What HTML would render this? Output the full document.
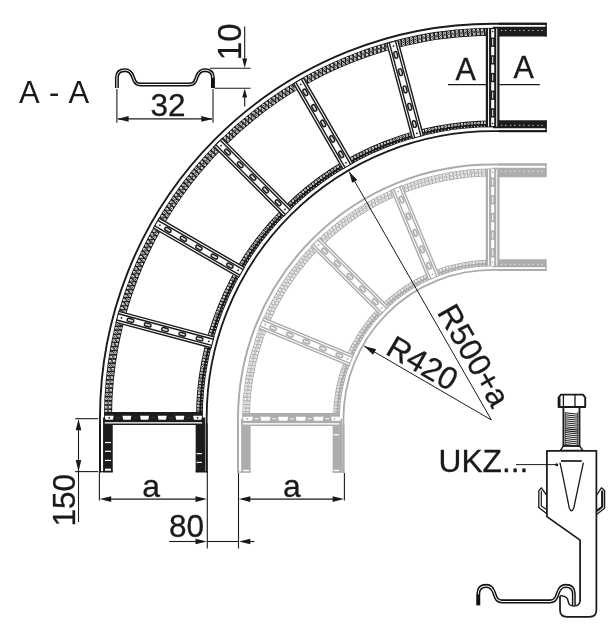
<!DOCTYPE html>
<html><head><meta charset="utf-8"><title>Cable ladder bend</title>
<style>html,body{margin:0;padding:0;background:#fff;}svg{display:block;filter:grayscale(1);}text{font-family:"Liberation Sans",sans-serif;}</style>
</head><body>
<svg width="616" height="637" viewBox="0 0 616 637">
<rect width="616" height="637" fill="#fff"/>
<g id="grey">
<path d="M238 472.6 L238 418.8 A254.3 254.3 0 0 1 492.3 164.5 L546.5 164.5" fill="none" stroke="#ababab" stroke-width="1.9"/>
<path d="M343.45 472.6 L343.45 418.8 A148.85 148.85 0 0 1 492.3 269.95 L546.5 269.95" fill="none" stroke="#ababab" stroke-width="1.8"/>
<path d="M246 418.8 A246.3 246.3 0 0 1 492.3 172.5" fill="none" stroke="#adadad" stroke-width="7.8"/>
<path d="M336.4 418.8 A155.9 155.9 0 0 1 492.3 262.9" fill="none" stroke="#adadad" stroke-width="6.8"/>
<line x1="245.9" y1="418.8" x2="245.9" y2="472.6" stroke="#adadad" stroke-width="9.5"/>
<line x1="492.3" y1="172.4" x2="546.5" y2="172.4" stroke="#adadad" stroke-width="9.5"/>
<line x1="337.4" y1="418.8" x2="337.4" y2="472.6" stroke="#adadad" stroke-width="9.5"/>
<line x1="492.3" y1="263.3" x2="546.5" y2="263.3" stroke="#adadad" stroke-width="8.1"/>
<line x1="238" y1="424.8" x2="238" y2="472.6" stroke="#ababab" stroke-width="1.9"/>
<line x1="498.3" y1="164.5" x2="546.5" y2="164.5" stroke="#ababab" stroke-width="1.9"/>
<line x1="343.45" y1="424.8" x2="343.45" y2="472.6" stroke="#ababab" stroke-width="1.9"/>
<line x1="498.3" y1="269.95" x2="546.5" y2="269.95" stroke="#ababab" stroke-width="1.9"/>
<path d="M244.05 418.8 A248.25 248.25 0 0 1 492.3 170.55" fill="none" stroke="#fff" stroke-width="2.55" stroke-linecap="round" stroke-dasharray="0 3.61" stroke-dashoffset="-1.81"/><path d="M244.05 418.8 A248.25 248.25 0 0 1 492.3 170.55" fill="none" stroke="#adadad" stroke-width="1.1" stroke-linecap="round" stroke-dasharray="0 3.61" stroke-dashoffset="-1.81"/>
<path d="M247.95 418.8 A244.35 244.35 0 0 1 492.3 174.45" fill="none" stroke="#fff" stroke-width="2.55" stroke-linecap="round" stroke-dasharray="0 3.59" stroke-dashoffset="-1.79"/><path d="M247.95 418.8 A244.35 244.35 0 0 1 492.3 174.45" fill="none" stroke="#adadad" stroke-width="1.1" stroke-linecap="round" stroke-dasharray="0 3.59" stroke-dashoffset="-1.79"/>
<path d="M246 418.8 A246.3 246.3 0 0 1 492.3 172.5" fill="none" stroke="#fff" stroke-width="0.9" stroke-linecap="round" stroke-dasharray="0 1.8" stroke-dashoffset="-0.9"/>
<path d="M335.1 418.8 A157.2 157.2 0 0 1 492.3 261.6" fill="none" stroke="#fff" stroke-width="2.4" stroke-linecap="round" stroke-dasharray="0 3.38" stroke-dashoffset="-1.69"/><path d="M335.1 418.8 A157.2 157.2 0 0 1 492.3 261.6" fill="none" stroke="#adadad" stroke-width="1.1" stroke-linecap="round" stroke-dasharray="0 3.38" stroke-dashoffset="-1.69"/>
<path d="M338.5 418.8 A153.8 153.8 0 0 1 492.3 265" fill="none" stroke="#fff" stroke-width="1.1" stroke-linecap="round" stroke-dasharray="0 3.4" stroke-dashoffset="-1.7"/>
<g transform="translate(492.3 418.8) rotate(-22.5)"><rect x="-6.2" y="-250" width="12.4" height="97.3" fill="#fff"/><line x1="-5.65" y1="-250" x2="-5.65" y2="-152.7" stroke="#ababab" stroke-width="1.4"/><line x1="-3.2" y1="-250" x2="-3.2" y2="-152.7" stroke="#ababab" stroke-width="1.4"/><line x1="3.2" y1="-250" x2="3.2" y2="-152.7" stroke="#ababab" stroke-width="1.4"/><line x1="5.65" y1="-250" x2="5.65" y2="-152.7" stroke="#ababab" stroke-width="1.4"/><line x1="-6.2" y1="-250" x2="6.2" y2="-250" stroke="#ababab" stroke-width="1"/><line x1="-6.2" y1="-152.7" x2="6.2" y2="-152.7" stroke="#ababab" stroke-width="1"/><rect x="-1.6" y="-168.95" width="3.2" height="6.8" rx="1.5" fill="#eee" stroke="#ababab" stroke-width="1.45"/><rect x="-1.6" y="-186.85" width="3.2" height="6.8" rx="1.5" fill="#eee" stroke="#ababab" stroke-width="1.45"/><rect x="-1.6" y="-204.75" width="3.2" height="6.8" rx="1.5" fill="#eee" stroke="#ababab" stroke-width="1.45"/><rect x="-1.6" y="-222.65" width="3.2" height="6.8" rx="1.5" fill="#eee" stroke="#ababab" stroke-width="1.45"/><rect x="-1.6" y="-240.55" width="3.2" height="6.8" rx="1.5" fill="#eee" stroke="#ababab" stroke-width="1.45"/><circle cx="0" cy="-245.8" r="0.9" fill="#ababab"/><circle cx="0" cy="-156.5" r="0.9" fill="#ababab"/></g>
<g transform="translate(492.3 418.8) rotate(-45)"><rect x="-6.2" y="-250" width="12.4" height="97.3" fill="#fff"/><line x1="-5.65" y1="-250" x2="-5.65" y2="-152.7" stroke="#ababab" stroke-width="1.4"/><line x1="-3.2" y1="-250" x2="-3.2" y2="-152.7" stroke="#ababab" stroke-width="1.4"/><line x1="3.2" y1="-250" x2="3.2" y2="-152.7" stroke="#ababab" stroke-width="1.4"/><line x1="5.65" y1="-250" x2="5.65" y2="-152.7" stroke="#ababab" stroke-width="1.4"/><line x1="-6.2" y1="-250" x2="6.2" y2="-250" stroke="#ababab" stroke-width="1"/><line x1="-6.2" y1="-152.7" x2="6.2" y2="-152.7" stroke="#ababab" stroke-width="1"/><rect x="-1.6" y="-168.95" width="3.2" height="6.8" rx="1.5" fill="#eee" stroke="#ababab" stroke-width="1.45"/><rect x="-1.6" y="-186.85" width="3.2" height="6.8" rx="1.5" fill="#eee" stroke="#ababab" stroke-width="1.45"/><rect x="-1.6" y="-204.75" width="3.2" height="6.8" rx="1.5" fill="#eee" stroke="#ababab" stroke-width="1.45"/><rect x="-1.6" y="-222.65" width="3.2" height="6.8" rx="1.5" fill="#eee" stroke="#ababab" stroke-width="1.45"/><rect x="-1.6" y="-240.55" width="3.2" height="6.8" rx="1.5" fill="#eee" stroke="#ababab" stroke-width="1.45"/><circle cx="0" cy="-245.8" r="0.9" fill="#ababab"/><circle cx="0" cy="-156.5" r="0.9" fill="#ababab"/></g>
<g transform="translate(492.3 418.8) rotate(-67.5)"><rect x="-6.2" y="-250" width="12.4" height="97.3" fill="#fff"/><line x1="-5.65" y1="-250" x2="-5.65" y2="-152.7" stroke="#ababab" stroke-width="1.4"/><line x1="-3.2" y1="-250" x2="-3.2" y2="-152.7" stroke="#ababab" stroke-width="1.4"/><line x1="3.2" y1="-250" x2="3.2" y2="-152.7" stroke="#ababab" stroke-width="1.4"/><line x1="5.65" y1="-250" x2="5.65" y2="-152.7" stroke="#ababab" stroke-width="1.4"/><line x1="-6.2" y1="-250" x2="6.2" y2="-250" stroke="#ababab" stroke-width="1"/><line x1="-6.2" y1="-152.7" x2="6.2" y2="-152.7" stroke="#ababab" stroke-width="1"/><rect x="-1.6" y="-168.95" width="3.2" height="6.8" rx="1.5" fill="#eee" stroke="#ababab" stroke-width="1.45"/><rect x="-1.6" y="-186.85" width="3.2" height="6.8" rx="1.5" fill="#eee" stroke="#ababab" stroke-width="1.45"/><rect x="-1.6" y="-204.75" width="3.2" height="6.8" rx="1.5" fill="#eee" stroke="#ababab" stroke-width="1.45"/><rect x="-1.6" y="-222.65" width="3.2" height="6.8" rx="1.5" fill="#eee" stroke="#ababab" stroke-width="1.45"/><rect x="-1.6" y="-240.55" width="3.2" height="6.8" rx="1.5" fill="#eee" stroke="#ababab" stroke-width="1.45"/><circle cx="0" cy="-245.8" r="0.9" fill="#ababab"/><circle cx="0" cy="-156.5" r="0.9" fill="#ababab"/></g>
<rect x="485.8" y="168.8" width="13.7" height="97.3" fill="#adadad"/>
<rect x="488.05" y="169.3" width="1.0" height="96.3" fill="#fff"/>
<rect x="496.25" y="169.3" width="1.0" height="96.3" fill="#fff"/>
<rect x="491.2" y="169.05" width="3" height="8.4" fill="#fff"/>
<rect x="491.2" y="186.75" width="3" height="8.4" fill="#fff"/>
<rect x="491.2" y="204.4" width="3" height="8.4" fill="#fff"/>
<rect x="491.2" y="222.1" width="3" height="8.4" fill="#fff"/>
<rect x="491.2" y="239.75" width="3" height="8.4" fill="#fff"/>
<rect x="491.2" y="257.45" width="3" height="8.4" fill="#fff"/>
<rect x="492.2" y="178.85" width="1" height="6.4" fill="#fff"/>
<rect x="492.2" y="196.55" width="1" height="6.4" fill="#fff"/>
<rect x="492.2" y="214.25" width="1" height="6.4" fill="#fff"/>
<rect x="492.2" y="231.95" width="1" height="6.4" fill="#fff"/>
<rect x="492.2" y="249.65" width="1" height="6.4" fill="#fff"/>
<circle cx="492.7" cy="172.4" r="0.8" fill="#adadad"/>
<circle cx="492.7" cy="262.5" r="0.8" fill="#adadad"/>
<rect x="242.3" y="413" width="97.3" height="13" fill="#adadad"/>
<rect x="242.8" y="423.2" width="96.3" height="1.3" fill="#fff"/>
<path d="M242.65 416.8 h10.2 l-0.8 3.9 h-8.6 z" fill="#fff"/>
<path d="M260.35 416.8 h10.2 l-0.8 3.9 h-8.6 z" fill="#fff"/>
<path d="M278 416.8 h10.2 l-0.8 3.9 h-8.6 z" fill="#fff"/>
<path d="M295.7 416.8 h10.2 l-0.8 3.9 h-8.6 z" fill="#fff"/>
<path d="M313.35 416.8 h10.2 l-0.8 3.9 h-8.6 z" fill="#fff"/>
<path d="M331.05 416.8 h10.2 l-0.8 3.9 h-8.6 z" fill="#fff"/>
<rect x="254.55" y="418.2" width="4" height="1.1" fill="#fff" opacity="0.9"/>
<rect x="272.25" y="418.2" width="4" height="1.1" fill="#fff" opacity="0.9"/>
<rect x="289.95" y="418.2" width="4" height="1.1" fill="#fff" opacity="0.9"/>
<rect x="307.65" y="418.2" width="4" height="1.1" fill="#fff" opacity="0.9"/>
<rect x="325.35" y="418.2" width="4" height="1.1" fill="#fff" opacity="0.9"/>
<circle cx="247.3" cy="418.8" r="0.9" fill="#adadad"/>
<circle cx="334.6" cy="418.8" r="0.9" fill="#adadad"/>
<rect x="243" y="469.8" width="6" height="1.6" fill="#fff"/>
<rect x="333.6" y="434.2" width="5.4" height="1.2" fill="#fff"/>
<rect x="333.6" y="469.8" width="5.4" height="1.6" fill="#fff"/>
<line x1="237.15" y1="472" x2="250.7" y2="472" stroke="#ababab" stroke-width="1.2"/>
<line x1="332.6" y1="472" x2="344.3" y2="472" stroke="#ababab" stroke-width="1.2"/>
<line x1="545.8" y1="163.65" x2="545.8" y2="176.4" stroke="#ababab" stroke-width="1.4"/>
<line x1="545.8" y1="259.5" x2="545.8" y2="270.8" stroke="#ababab" stroke-width="1.4"/>
<rect x="501.2" y="170.7" width="1" height="1" fill="#fff"/>
<rect x="505.3" y="170.7" width="1" height="1" fill="#fff"/>
<rect x="510.25" y="170.7" width="1" height="1" fill="#fff"/>
<rect x="514.35" y="170.7" width="1" height="1" fill="#fff"/>
<rect x="519.3" y="170.7" width="1" height="1" fill="#fff"/>
<rect x="523.4" y="170.7" width="1" height="1" fill="#fff"/>
<rect x="528.35" y="170.7" width="1" height="1" fill="#fff"/>
<rect x="532.45" y="170.7" width="1" height="1" fill="#fff"/>
<rect x="537.4" y="170.7" width="1" height="1" fill="#fff"/>
<rect x="541.5" y="170.7" width="1" height="1" fill="#fff"/>
<rect x="501.2" y="263.8" width="1" height="1" fill="#fff"/>
<rect x="505.3" y="263.8" width="1" height="1" fill="#fff"/>
<rect x="510.25" y="263.8" width="1" height="1" fill="#fff"/>
<rect x="514.35" y="263.8" width="1" height="1" fill="#fff"/>
<rect x="519.3" y="263.8" width="1" height="1" fill="#fff"/>
<rect x="523.4" y="263.8" width="1" height="1" fill="#fff"/>
<rect x="528.35" y="263.8" width="1" height="1" fill="#fff"/>
<rect x="532.45" y="263.8" width="1" height="1" fill="#fff"/>
<rect x="537.4" y="263.8" width="1" height="1" fill="#fff"/>
<rect x="541.5" y="263.8" width="1" height="1" fill="#fff"/>
</g>
<g id="black">
<path d="M100 472.3 L100 417.5 A393 393.7 0 0 1 493 23.8 L546.7 23.8" fill="none" stroke="#1a1a1a" stroke-width="1.9"/>
<path d="M206.7 472.3 L206.7 417.5 A286.3 286.3 0 0 1 493 131.2 L546.7 131.2" fill="none" stroke="#1a1a1a" stroke-width="1.8"/>
<path d="M108 417.5 A385 385.7 0 0 1 493 31.8" fill="none" stroke="#1c1c1c" stroke-width="8"/>
<path d="M199.4 417.5 A293.6 293.6 0 0 1 493 123.9" fill="none" stroke="#1c1c1c" stroke-width="6.8"/>
<line x1="107.9" y1="417.5" x2="107.9" y2="472.3" stroke="#1c1c1c" stroke-width="9.7"/>
<line x1="493" y1="31.7" x2="546.7" y2="31.7" stroke="#1c1c1c" stroke-width="9.7"/>
<line x1="200.4" y1="417.5" x2="200.4" y2="472.3" stroke="#1c1c1c" stroke-width="9.5"/>
<line x1="493" y1="124.3" x2="546.7" y2="124.3" stroke="#1c1c1c" stroke-width="8.1"/>
<line x1="100" y1="423.5" x2="100" y2="472.3" stroke="#1a1a1a" stroke-width="1.9"/>
<line x1="499" y1="23.8" x2="546.7" y2="23.8" stroke="#1a1a1a" stroke-width="1.9"/>
<line x1="206.7" y1="423.5" x2="206.7" y2="472.3" stroke="#1a1a1a" stroke-width="1.9"/>
<line x1="499" y1="131.2" x2="546.7" y2="131.2" stroke="#1a1a1a" stroke-width="1.9"/>
<path d="M106.05 417.5 A386.95 387.65 0 0 1 493 29.85" fill="none" stroke="#fff" stroke-width="2.55" stroke-linecap="round" stroke-dasharray="0 4.19" stroke-dashoffset="-2.1"/><path d="M106.05 417.5 A386.95 387.65 0 0 1 493 29.85" fill="none" stroke="#1c1c1c" stroke-width="1.1" stroke-linecap="round" stroke-dasharray="0 4.19" stroke-dashoffset="-2.1"/>
<path d="M109.95 417.5 A383.05 383.75 0 0 1 493 33.75" fill="none" stroke="#fff" stroke-width="2.55" stroke-linecap="round" stroke-dasharray="0 4.21" stroke-dashoffset="-2.1"/><path d="M109.95 417.5 A383.05 383.75 0 0 1 493 33.75" fill="none" stroke="#1c1c1c" stroke-width="1.1" stroke-linecap="round" stroke-dasharray="0 4.21" stroke-dashoffset="-2.1"/>
<path d="M108 417.5 A385 385.7 0 0 1 493 31.8" fill="none" stroke="#fff" stroke-width="0.9" stroke-linecap="round" stroke-dasharray="0 2.1" stroke-dashoffset="-1.05"/>
<path d="M198.1 417.5 A294.9 294.9 0 0 1 493 122.6" fill="none" stroke="#fff" stroke-width="2.4" stroke-linecap="round" stroke-dasharray="0 3.31" stroke-dashoffset="-1.65"/><path d="M198.1 417.5 A294.9 294.9 0 0 1 493 122.6" fill="none" stroke="#1c1c1c" stroke-width="1.1" stroke-linecap="round" stroke-dasharray="0 3.31" stroke-dashoffset="-1.65"/>
<path d="M201.5 417.5 A291.5 291.5 0 0 1 493 126" fill="none" stroke="#fff" stroke-width="1.1" stroke-linecap="round" stroke-dasharray="0 3.29" stroke-dashoffset="-1.65"/>
<g transform="translate(493 417.5) rotate(-15)"><rect x="-6.2" y="-388.8" width="12.4" height="98.4" fill="#fff"/><line x1="-5.65" y1="-388.8" x2="-5.65" y2="-290.4" stroke="#1a1a1a" stroke-width="1.4"/><line x1="-3.2" y1="-388.8" x2="-3.2" y2="-290.4" stroke="#1a1a1a" stroke-width="1.4"/><line x1="3.2" y1="-388.8" x2="3.2" y2="-290.4" stroke="#1a1a1a" stroke-width="1.4"/><line x1="5.65" y1="-388.8" x2="5.65" y2="-290.4" stroke="#1a1a1a" stroke-width="1.4"/><line x1="-6.2" y1="-388.8" x2="6.2" y2="-388.8" stroke="#1a1a1a" stroke-width="1"/><line x1="-6.2" y1="-290.4" x2="6.2" y2="-290.4" stroke="#1a1a1a" stroke-width="1"/><rect x="-1.6" y="-307.2" width="3.2" height="6.8" rx="1.5" fill="#ddd" stroke="#1a1a1a" stroke-width="1.45"/><rect x="-1.6" y="-325.1" width="3.2" height="6.8" rx="1.5" fill="#ddd" stroke="#1a1a1a" stroke-width="1.45"/><rect x="-1.6" y="-343" width="3.2" height="6.8" rx="1.5" fill="#ddd" stroke="#1a1a1a" stroke-width="1.45"/><rect x="-1.6" y="-360.9" width="3.2" height="6.8" rx="1.5" fill="#ddd" stroke="#1a1a1a" stroke-width="1.45"/><rect x="-1.6" y="-378.8" width="3.2" height="6.8" rx="1.5" fill="#ddd" stroke="#1a1a1a" stroke-width="1.45"/><circle cx="0" cy="-384.6" r="0.9" fill="#1a1a1a"/><circle cx="0" cy="-294.2" r="0.9" fill="#1a1a1a"/></g>
<g transform="translate(493 417.5) rotate(-30)"><rect x="-6.2" y="-388.8" width="12.4" height="98.4" fill="#fff"/><line x1="-5.65" y1="-388.8" x2="-5.65" y2="-290.4" stroke="#1a1a1a" stroke-width="1.4"/><line x1="-3.2" y1="-388.8" x2="-3.2" y2="-290.4" stroke="#1a1a1a" stroke-width="1.4"/><line x1="3.2" y1="-388.8" x2="3.2" y2="-290.4" stroke="#1a1a1a" stroke-width="1.4"/><line x1="5.65" y1="-388.8" x2="5.65" y2="-290.4" stroke="#1a1a1a" stroke-width="1.4"/><line x1="-6.2" y1="-388.8" x2="6.2" y2="-388.8" stroke="#1a1a1a" stroke-width="1"/><line x1="-6.2" y1="-290.4" x2="6.2" y2="-290.4" stroke="#1a1a1a" stroke-width="1"/><rect x="-1.6" y="-307.2" width="3.2" height="6.8" rx="1.5" fill="#ddd" stroke="#1a1a1a" stroke-width="1.45"/><rect x="-1.6" y="-325.1" width="3.2" height="6.8" rx="1.5" fill="#ddd" stroke="#1a1a1a" stroke-width="1.45"/><rect x="-1.6" y="-343" width="3.2" height="6.8" rx="1.5" fill="#ddd" stroke="#1a1a1a" stroke-width="1.45"/><rect x="-1.6" y="-360.9" width="3.2" height="6.8" rx="1.5" fill="#ddd" stroke="#1a1a1a" stroke-width="1.45"/><rect x="-1.6" y="-378.8" width="3.2" height="6.8" rx="1.5" fill="#ddd" stroke="#1a1a1a" stroke-width="1.45"/><circle cx="0" cy="-384.6" r="0.9" fill="#1a1a1a"/><circle cx="0" cy="-294.2" r="0.9" fill="#1a1a1a"/></g>
<g transform="translate(493 417.5) rotate(-45)"><rect x="-6.2" y="-388.8" width="12.4" height="98.4" fill="#fff"/><line x1="-5.65" y1="-388.8" x2="-5.65" y2="-290.4" stroke="#1a1a1a" stroke-width="1.4"/><line x1="-3.2" y1="-388.8" x2="-3.2" y2="-290.4" stroke="#1a1a1a" stroke-width="1.4"/><line x1="3.2" y1="-388.8" x2="3.2" y2="-290.4" stroke="#1a1a1a" stroke-width="1.4"/><line x1="5.65" y1="-388.8" x2="5.65" y2="-290.4" stroke="#1a1a1a" stroke-width="1.4"/><line x1="-6.2" y1="-388.8" x2="6.2" y2="-388.8" stroke="#1a1a1a" stroke-width="1"/><line x1="-6.2" y1="-290.4" x2="6.2" y2="-290.4" stroke="#1a1a1a" stroke-width="1"/><rect x="-1.6" y="-307.2" width="3.2" height="6.8" rx="1.5" fill="#ddd" stroke="#1a1a1a" stroke-width="1.45"/><rect x="-1.6" y="-325.1" width="3.2" height="6.8" rx="1.5" fill="#ddd" stroke="#1a1a1a" stroke-width="1.45"/><rect x="-1.6" y="-343" width="3.2" height="6.8" rx="1.5" fill="#ddd" stroke="#1a1a1a" stroke-width="1.45"/><rect x="-1.6" y="-360.9" width="3.2" height="6.8" rx="1.5" fill="#ddd" stroke="#1a1a1a" stroke-width="1.45"/><rect x="-1.6" y="-378.8" width="3.2" height="6.8" rx="1.5" fill="#ddd" stroke="#1a1a1a" stroke-width="1.45"/><circle cx="0" cy="-384.6" r="0.9" fill="#1a1a1a"/><circle cx="0" cy="-294.2" r="0.9" fill="#1a1a1a"/></g>
<g transform="translate(493 417.5) rotate(-60)"><rect x="-6.2" y="-388.8" width="12.4" height="98.4" fill="#fff"/><line x1="-5.65" y1="-388.8" x2="-5.65" y2="-290.4" stroke="#1a1a1a" stroke-width="1.4"/><line x1="-3.2" y1="-388.8" x2="-3.2" y2="-290.4" stroke="#1a1a1a" stroke-width="1.4"/><line x1="3.2" y1="-388.8" x2="3.2" y2="-290.4" stroke="#1a1a1a" stroke-width="1.4"/><line x1="5.65" y1="-388.8" x2="5.65" y2="-290.4" stroke="#1a1a1a" stroke-width="1.4"/><line x1="-6.2" y1="-388.8" x2="6.2" y2="-388.8" stroke="#1a1a1a" stroke-width="1"/><line x1="-6.2" y1="-290.4" x2="6.2" y2="-290.4" stroke="#1a1a1a" stroke-width="1"/><rect x="-1.6" y="-307.2" width="3.2" height="6.8" rx="1.5" fill="#ddd" stroke="#1a1a1a" stroke-width="1.45"/><rect x="-1.6" y="-325.1" width="3.2" height="6.8" rx="1.5" fill="#ddd" stroke="#1a1a1a" stroke-width="1.45"/><rect x="-1.6" y="-343" width="3.2" height="6.8" rx="1.5" fill="#ddd" stroke="#1a1a1a" stroke-width="1.45"/><rect x="-1.6" y="-360.9" width="3.2" height="6.8" rx="1.5" fill="#ddd" stroke="#1a1a1a" stroke-width="1.45"/><rect x="-1.6" y="-378.8" width="3.2" height="6.8" rx="1.5" fill="#ddd" stroke="#1a1a1a" stroke-width="1.45"/><circle cx="0" cy="-384.6" r="0.9" fill="#1a1a1a"/><circle cx="0" cy="-294.2" r="0.9" fill="#1a1a1a"/></g>
<g transform="translate(493 417.5) rotate(-75)"><rect x="-6.2" y="-388.8" width="12.4" height="98.4" fill="#fff"/><line x1="-5.65" y1="-388.8" x2="-5.65" y2="-290.4" stroke="#1a1a1a" stroke-width="1.4"/><line x1="-3.2" y1="-388.8" x2="-3.2" y2="-290.4" stroke="#1a1a1a" stroke-width="1.4"/><line x1="3.2" y1="-388.8" x2="3.2" y2="-290.4" stroke="#1a1a1a" stroke-width="1.4"/><line x1="5.65" y1="-388.8" x2="5.65" y2="-290.4" stroke="#1a1a1a" stroke-width="1.4"/><line x1="-6.2" y1="-388.8" x2="6.2" y2="-388.8" stroke="#1a1a1a" stroke-width="1"/><line x1="-6.2" y1="-290.4" x2="6.2" y2="-290.4" stroke="#1a1a1a" stroke-width="1"/><rect x="-1.6" y="-307.2" width="3.2" height="6.8" rx="1.5" fill="#ddd" stroke="#1a1a1a" stroke-width="1.45"/><rect x="-1.6" y="-325.1" width="3.2" height="6.8" rx="1.5" fill="#ddd" stroke="#1a1a1a" stroke-width="1.45"/><rect x="-1.6" y="-343" width="3.2" height="6.8" rx="1.5" fill="#ddd" stroke="#1a1a1a" stroke-width="1.45"/><rect x="-1.6" y="-360.9" width="3.2" height="6.8" rx="1.5" fill="#ddd" stroke="#1a1a1a" stroke-width="1.45"/><rect x="-1.6" y="-378.8" width="3.2" height="6.8" rx="1.5" fill="#ddd" stroke="#1a1a1a" stroke-width="1.45"/><circle cx="0" cy="-384.6" r="0.9" fill="#1a1a1a"/><circle cx="0" cy="-294.2" r="0.9" fill="#1a1a1a"/></g>
<rect x="485.8" y="28" width="13.7" height="99.1" fill="#1c1c1c"/>
<rect x="488.05" y="28.5" width="1.0" height="98.1" fill="#fff"/>
<rect x="496.25" y="28.5" width="1.0" height="98.1" fill="#fff"/>
<rect x="491.2" y="29.15" width="3" height="8.4" fill="#fff"/>
<rect x="491.2" y="46.85" width="3" height="8.4" fill="#fff"/>
<rect x="491.2" y="64.5" width="3" height="8.4" fill="#fff"/>
<rect x="491.2" y="82.2" width="3" height="8.4" fill="#fff"/>
<rect x="491.2" y="99.85" width="3" height="8.4" fill="#fff"/>
<rect x="491.2" y="117.55" width="3" height="8.4" fill="#fff"/>
<rect x="492.2" y="38.95" width="1" height="6.4" fill="#fff"/>
<rect x="492.2" y="56.65" width="1" height="6.4" fill="#fff"/>
<rect x="492.2" y="74.35" width="1" height="6.4" fill="#fff"/>
<rect x="492.2" y="92.05" width="1" height="6.4" fill="#fff"/>
<rect x="492.2" y="109.75" width="1" height="6.4" fill="#fff"/>
<circle cx="492.7" cy="31.6" r="0.8" fill="#1c1c1c"/>
<circle cx="492.7" cy="123.5" r="0.8" fill="#1c1c1c"/>
<rect x="104.2" y="412" width="98.4" height="13" fill="#1c1c1c"/>
<rect x="104.7" y="422.2" width="97.4" height="1.3" fill="#fff"/>
<path d="M104.7 415.8 h9 l-0.8 3.9 h-7.4 z" fill="#fff"/>
<path d="M122.4 415.8 h9 l-0.8 3.9 h-7.4 z" fill="#fff"/>
<path d="M140.05 415.8 h9 l-0.8 3.9 h-7.4 z" fill="#fff"/>
<path d="M157.75 415.8 h9 l-0.8 3.9 h-7.4 z" fill="#fff"/>
<path d="M175.4 415.8 h9 l-0.8 3.9 h-7.4 z" fill="#fff"/>
<path d="M193.1 415.8 h9 l-0.8 3.9 h-7.4 z" fill="#fff"/>
<rect x="116" y="417.2" width="4" height="1.1" fill="#fff" opacity="0.12"/>
<rect x="133.7" y="417.2" width="4" height="1.1" fill="#fff" opacity="0.12"/>
<rect x="151.4" y="417.2" width="4" height="1.1" fill="#fff" opacity="0.12"/>
<rect x="169.1" y="417.2" width="4" height="1.1" fill="#fff" opacity="0.12"/>
<rect x="186.8" y="417.2" width="4" height="1.1" fill="#fff" opacity="0.12"/>
<circle cx="109.2" cy="417.8" r="0.9" fill="#1c1c1c"/>
<circle cx="197.6" cy="417.8" r="0.9" fill="#1c1c1c"/>
<rect x="105" y="441.9" width="6" height="1.2" fill="#fff"/>
<rect x="105" y="450.7" width="6" height="1.2" fill="#fff"/>
<rect x="105" y="459.8" width="6" height="1.2" fill="#fff"/>
<rect x="105" y="468.7" width="6" height="2.0" fill="#fff"/>
<rect x="196.6" y="453" width="5.4" height="1.2" fill="#fff"/>
<rect x="196.6" y="461.8" width="5.4" height="1.2" fill="#fff"/>
<line x1="99.15" y1="471.7" x2="112.8" y2="471.7" stroke="#1a1a1a" stroke-width="1.2"/>
<line x1="195.6" y1="471.7" x2="207.55" y2="471.7" stroke="#1a1a1a" stroke-width="1.2"/>
<line x1="546" y1="22.95" x2="546" y2="36.5" stroke="#1a1a1a" stroke-width="1.4"/>
<line x1="546" y1="120.5" x2="546" y2="132.05" stroke="#1a1a1a" stroke-width="1.4"/>
<rect x="501.2" y="30" width="1" height="1" fill="#fff"/>
<rect x="505.3" y="30" width="1" height="1" fill="#fff"/>
<rect x="510.25" y="30" width="1" height="1" fill="#fff"/>
<rect x="514.35" y="30" width="1" height="1" fill="#fff"/>
<rect x="519.3" y="30" width="1" height="1" fill="#fff"/>
<rect x="523.4" y="30" width="1" height="1" fill="#fff"/>
<rect x="528.35" y="30" width="1" height="1" fill="#fff"/>
<rect x="532.45" y="30" width="1" height="1" fill="#fff"/>
<rect x="537.4" y="30" width="1" height="1" fill="#fff"/>
<rect x="541.5" y="30" width="1" height="1" fill="#fff"/>
<rect x="501.2" y="124.8" width="1" height="1" fill="#fff"/>
<rect x="505.3" y="124.8" width="1" height="1" fill="#fff"/>
<rect x="510.25" y="124.8" width="1" height="1" fill="#fff"/>
<rect x="514.35" y="124.8" width="1" height="1" fill="#fff"/>
<rect x="519.3" y="124.8" width="1" height="1" fill="#fff"/>
<rect x="523.4" y="124.8" width="1" height="1" fill="#fff"/>
<rect x="528.35" y="124.8" width="1" height="1" fill="#fff"/>
<rect x="532.45" y="124.8" width="1" height="1" fill="#fff"/>
<rect x="537.4" y="124.8" width="1" height="1" fill="#fff"/>
<rect x="541.5" y="124.8" width="1" height="1" fill="#fff"/>
</g>
<line x1="491.4" y1="420" x2="349.17" y2="171.65" stroke="#1a1a1a" stroke-width="1.0"/>
<path transform="translate(349.17 171.65) rotate(240.2)" d="M0 0 L-11.2 -3.0 L-11.2 3.0 Z" fill="#1a1a1a"/>
<line x1="491.4" y1="420" x2="364.09" y2="345.91" stroke="#1a1a1a" stroke-width="1.0"/>
<path transform="translate(364.09 345.91) rotate(210.2)" d="M0 0 L-12.2 -3.2 L-12.2 3.2 Z" fill="#1a1a1a"/>
<text transform="translate(436.6 312.3) rotate(60.2)" font-family="Liberation Sans, sans-serif" font-size="31.7" fill="#1a1a1a" stroke="#1a1a1a" stroke-width="0.3" text-anchor="start">R500+a</text>
<text transform="translate(384.2 353.6) rotate(30.2)" font-family="Liberation Sans, sans-serif" font-size="31.7" fill="#1a1a1a" stroke="#1a1a1a" stroke-width="0.3" text-anchor="start">R420</text>
<text x="19" y="102.5" font-family="Liberation Sans, sans-serif" font-size="31" fill="#1a1a1a" word-spacing="2.4">A - A</text>
<g transform="translate(116.9 88) scale(1.0 1.0)"><path d="M0 0 V-10.5 C0 -15.6 3.4 -17.8 8.2 -17.8 C12.6 -17.8 14.6 -15 15.9 -11.4 C17.6 -6.4 18.8 -3.5 24 -3.5 H72 C77.2 -3.5 78.4 -6.4 80.1 -11.4 C81.4 -15 83.4 -17.8 87.8 -17.8 C92.6 -17.8 96 -15.6 96 -10.5 V0" fill="none" stroke="#111" stroke-width="3.9" stroke-linejoin="round"/><path d="M0 0 V-10.5 C0 -15.6 3.4 -17.8 8.2 -17.8 C12.6 -17.8 14.6 -15 15.9 -11.4 C17.6 -6.4 18.8 -3.5 24 -3.5 H72 C77.2 -3.5 78.4 -6.4 80.1 -11.4 C81.4 -15 83.4 -17.8 87.8 -17.8 C92.6 -17.8 96 -15.6 96 -10.5 V0" fill="none" stroke="#fff" stroke-width="1.0" stroke-linejoin="round"/><path d="M96 0 V-10" fill="none" stroke="#111" stroke-width="3.2"/></g>
<line x1="116.9" y1="89" x2="116.9" y2="122.7" stroke="#1a1a1a" stroke-width="1.1"/>
<line x1="213" y1="89" x2="213" y2="122.7" stroke="#1a1a1a" stroke-width="1.1"/>
<line x1="118" y1="118.9" x2="212" y2="118.9" stroke="#1a1a1a" stroke-width="1.1"/>
<path transform="translate(117.2 118.9) rotate(180)" d="M0 0 L-11.4 -2.8 L-11.4 2.8 Z" fill="#1a1a1a"/>
<path transform="translate(212.7 118.9) rotate(0)" d="M0 0 L-11.4 -2.8 L-11.4 2.8 Z" fill="#1a1a1a"/>
<text x="168" y="116" font-family="Liberation Sans, sans-serif" font-size="31.5" fill="#1a1a1a" stroke="#1a1a1a" stroke-width="0.3" text-anchor="middle">32</text>
<line x1="210" y1="68.3" x2="250.5" y2="68.3" stroke="#1a1a1a" stroke-width="1.1"/>
<line x1="214.5" y1="88.3" x2="250.5" y2="88.3" stroke="#1a1a1a" stroke-width="1.1"/>
<line x1="244.7" y1="26.5" x2="244.7" y2="60" stroke="#1a1a1a" stroke-width="1.1"/>
<path transform="translate(244.7 68) rotate(90)" d="M0 0 L-9.6 -2.5 L-9.6 2.5 Z" fill="#1a1a1a"/>
<line x1="244.7" y1="97" x2="244.7" y2="106.5" stroke="#1a1a1a" stroke-width="1.1"/>
<path transform="translate(244.7 88.6) rotate(270)" d="M0 0 L-9.0 -2.5 L-9.0 2.5 Z" fill="#1a1a1a"/>
<text transform="translate(240.8 60.2) rotate(-90)" font-family="Liberation Sans, sans-serif" font-size="33" fill="#1a1a1a" stroke="#1a1a1a" stroke-width="0.3" text-anchor="start">10</text>
<text x="455.5" y="79.8" font-family="Liberation Sans, sans-serif" font-size="30.5" fill="#1a1a1a" stroke="#1a1a1a" stroke-width="0.3" text-anchor="start">A</text>
<text x="513.5" y="78.4" font-family="Liberation Sans, sans-serif" font-size="30.5" fill="#1a1a1a" stroke="#1a1a1a" stroke-width="0.3" text-anchor="start">A</text>
<line x1="448" y1="84.6" x2="486" y2="84.6" stroke="#1a1a1a" stroke-width="1.4"/>
<line x1="499.4" y1="84.6" x2="539.8" y2="84.6" stroke="#1a1a1a" stroke-width="1.4"/>
<line x1="75.2" y1="418.7" x2="98.2" y2="418.7" stroke="#1a1a1a" stroke-width="1.1"/>
<line x1="75.2" y1="471.6" x2="98.2" y2="471.6" stroke="#1a1a1a" stroke-width="1.1"/>
<line x1="78.5" y1="425" x2="78.5" y2="522" stroke="#1a1a1a" stroke-width="1.1"/>
<path transform="translate(78.5 418.9) rotate(270)" d="M0 0 L-11.4 -2.8 L-11.4 2.8 Z" fill="#1a1a1a"/>
<path transform="translate(78.5 471.4) rotate(90)" d="M0 0 L-11.4 -2.8 L-11.4 2.8 Z" fill="#1a1a1a"/>
<text transform="translate(75.2 526.5) rotate(-90)" font-family="Liberation Sans, sans-serif" font-size="31.5" fill="#1a1a1a" stroke="#1a1a1a" stroke-width="0.3" text-anchor="start">150</text>
<line x1="99.4" y1="472" x2="99.4" y2="500.6" stroke="#1a1a1a" stroke-width="1.1"/>
<line x1="207.3" y1="472" x2="207.3" y2="548.5" stroke="#1a1a1a" stroke-width="1.1"/>
<line x1="238.5" y1="473" x2="238.5" y2="548.5" stroke="#1a1a1a" stroke-width="1.1"/>
<line x1="344.4" y1="473" x2="344.4" y2="500.6" stroke="#1a1a1a" stroke-width="1.1"/>
<line x1="105" y1="499.1" x2="201" y2="499.1" stroke="#1a1a1a" stroke-width="1.1"/>
<path transform="translate(99.8 499.1) rotate(180)" d="M0 0 L-11.4 -2.8 L-11.4 2.8 Z" fill="#1a1a1a"/>
<path transform="translate(206.9 499.1) rotate(0)" d="M0 0 L-11.4 -2.8 L-11.4 2.8 Z" fill="#1a1a1a"/>
<line x1="245" y1="499.1" x2="338" y2="499.1" stroke="#1a1a1a" stroke-width="1.1"/>
<path transform="translate(238.9 499.1) rotate(180)" d="M0 0 L-11.4 -2.8 L-11.4 2.8 Z" fill="#1a1a1a"/>
<path transform="translate(344 499.1) rotate(0)" d="M0 0 L-11.4 -2.8 L-11.4 2.8 Z" fill="#1a1a1a"/>
<text x="151.2" y="496.6" font-family="Liberation Sans, sans-serif" font-size="32" fill="#1a1a1a" stroke="#1a1a1a" stroke-width="0.3" text-anchor="middle">a</text>
<text x="292" y="496.6" font-family="Liberation Sans, sans-serif" font-size="32" fill="#1a1a1a" stroke="#1a1a1a" stroke-width="0.3" text-anchor="middle">a</text>
<line x1="169.2" y1="541.5" x2="200" y2="541.5" stroke="#1a1a1a" stroke-width="1.1"/>
<path transform="translate(206.9 541.5) rotate(0)" d="M0 0 L-11.4 -2.8 L-11.4 2.8 Z" fill="#1a1a1a"/>
<line x1="207" y1="541.5" x2="238.5" y2="541.5" stroke="#1a1a1a" stroke-width="1.1"/>
<path transform="translate(238.9 541.5) rotate(180)" d="M0 0 L-11.4 -2.8 L-11.4 2.8 Z" fill="#1a1a1a"/>
<line x1="245" y1="541.5" x2="254.5" y2="541.5" stroke="#1a1a1a" stroke-width="1.1"/>
<text x="186.5" y="537" font-family="Liberation Sans, sans-serif" font-size="31.5" fill="#1a1a1a" stroke="#1a1a1a" stroke-width="0.3" text-anchor="middle">80</text>
<text x="438.6" y="472" font-family="Liberation Sans, sans-serif" font-size="31.7" fill="#1a1a1a" stroke="#1a1a1a" stroke-width="0.3" text-anchor="start">UKZ...</text>
<line x1="516" y1="464.6" x2="556" y2="464.6" stroke="#1a1a1a" stroke-width="1.0"/>
<circle cx="556.7" cy="464.8" r="1.5" fill="#1a1a1a"/>
<path d="M558.6 407 V397.5 L561 394.6 H583 L585.2 397.5 V407 Z" fill="none" stroke="#1a1a1a" stroke-width="1.9" stroke-linejoin="round"/>
<line x1="563.4" y1="395" x2="563.4" y2="407" stroke="#1a1a1a" stroke-width="1.3"/>
<line x1="575" y1="395" x2="575" y2="407" stroke="#1a1a1a" stroke-width="1.3"/>
<line x1="559.6" y1="397.5" x2="559.6" y2="407" stroke="#1a1a1a" stroke-width="1.8"/>
<rect x="563.4" y="407" width="16.1" height="39" fill="none" stroke="#1a1a1a" stroke-width="1.8"/>
<line x1="565.2" y1="412" x2="565.2" y2="446" stroke="#1a1a1a" stroke-width="0.8"/>
<line x1="577.8" y1="412" x2="577.8" y2="446" stroke="#1a1a1a" stroke-width="0.8"/>
<line x1="565.2" y1="412.8" x2="577.8" y2="414.3" stroke="#1a1a1a" stroke-width="1.05"/>
<line x1="565.2" y1="414.78" x2="577.8" y2="416.28" stroke="#1a1a1a" stroke-width="1.05"/>
<line x1="565.2" y1="416.76" x2="577.8" y2="418.26" stroke="#1a1a1a" stroke-width="1.05"/>
<line x1="565.2" y1="418.74" x2="577.8" y2="420.24" stroke="#1a1a1a" stroke-width="1.05"/>
<line x1="565.2" y1="420.72" x2="577.8" y2="422.22" stroke="#1a1a1a" stroke-width="1.05"/>
<line x1="565.2" y1="422.7" x2="577.8" y2="424.2" stroke="#1a1a1a" stroke-width="1.05"/>
<line x1="565.2" y1="424.68" x2="577.8" y2="426.18" stroke="#1a1a1a" stroke-width="1.05"/>
<line x1="565.2" y1="426.66" x2="577.8" y2="428.16" stroke="#1a1a1a" stroke-width="1.05"/>
<line x1="565.2" y1="428.64" x2="577.8" y2="430.14" stroke="#1a1a1a" stroke-width="1.05"/>
<line x1="565.2" y1="430.62" x2="577.8" y2="432.12" stroke="#1a1a1a" stroke-width="1.05"/>
<line x1="565.2" y1="432.6" x2="577.8" y2="434.1" stroke="#1a1a1a" stroke-width="1.05"/>
<line x1="565.2" y1="434.58" x2="577.8" y2="436.08" stroke="#1a1a1a" stroke-width="1.05"/>
<line x1="565.2" y1="436.56" x2="577.8" y2="438.06" stroke="#1a1a1a" stroke-width="1.05"/>
<line x1="565.2" y1="438.54" x2="577.8" y2="440.04" stroke="#1a1a1a" stroke-width="1.05"/>
<line x1="565.2" y1="440.52" x2="577.8" y2="442.02" stroke="#1a1a1a" stroke-width="1.05"/>
<line x1="565.2" y1="442.5" x2="577.8" y2="444" stroke="#1a1a1a" stroke-width="1.05"/>
<line x1="565.2" y1="444.48" x2="577.8" y2="445.98" stroke="#1a1a1a" stroke-width="1.05"/>
<path d="M563.4 446 L560.4 450.4 H583 L579.5 446" fill="none" stroke="#1a1a1a" stroke-width="1.4" stroke-linejoin="round"/>
<path d="M580.1 601 V540.1 L546.9 516.6 V450.8 H596.4 V610 Q596.4 616.8 589.5 616.8 H567 Q560 616.8 560 610 V596" fill="none" stroke="#1a1a1a" stroke-width="1.75" stroke-linejoin="round"/>
<path d="M580.1 600 C580.1 604.5 577 606 574 606 C570.5 606 568.6 604.5 568.2 601.5 C568 598.5 565.5 596 560.2 595.6" fill="none" stroke="#1a1a1a" stroke-width="1.5"/>
<line x1="561" y1="461" x2="581.8" y2="461" stroke="#1a1a1a" stroke-width="1.7"/>
<path d="M559.9 462.6 C563.5 478 566.5 495 569.3 508 Q571.5 513.5 573.8 508 C576.5 495 580 478 583.4 462.6" fill="none" stroke="#1a1a1a" stroke-width="1.3"/>
<path d="M546.5 495 L541.3 487.8 L538.8 490.8 V507.5 L546.5 513.6" fill="none" stroke="#1a1a1a" stroke-width="1.3" stroke-linejoin="round"/>
<path d="M541.3 490.8 V506 L546.5 509.6" fill="none" stroke="#1a1a1a" stroke-width="1.2"/>
<path d="M596.8 495 L601.4 487.8 L604.6 490.8 V508.3 L596.8 514.3" fill="none" stroke="#1a1a1a" stroke-width="1.3" stroke-linejoin="round"/>
<path d="M602.2 490.8 V506.8 L596.8 510.8" fill="none" stroke="#1a1a1a" stroke-width="2.2"/>
<g transform="translate(478.3 605.2) scale(0.995 1.08)"><path d="M0 0 V-10.5 C0 -15.6 3.4 -17.8 8.2 -17.8 C12.6 -17.8 14.6 -15 15.9 -11.4 C17.6 -6.4 18.8 -3.5 24 -3.5 H72 C77.2 -3.5 78.4 -6.4 80.1 -11.4 C81.4 -15 83.4 -17.8 87.8 -17.8 C92.6 -17.8 96 -15.6 96 -10.5 V0" fill="none" stroke="#111" stroke-width="3.9" stroke-linejoin="round"/><path d="M0 0 V-10.5 C0 -15.6 3.4 -17.8 8.2 -17.8 C12.6 -17.8 14.6 -15 15.9 -11.4 C17.6 -6.4 18.8 -3.5 24 -3.5 H72 C77.2 -3.5 78.4 -6.4 80.1 -11.4 C81.4 -15 83.4 -17.8 87.8 -17.8 C92.6 -17.8 96 -15.6 96 -10.5 V0" fill="none" stroke="#fff" stroke-width="1.0" stroke-linejoin="round"/><path d="M0 0 V-10" fill="none" stroke="#111" stroke-width="3.2"/></g>
</svg>
</body></html>
